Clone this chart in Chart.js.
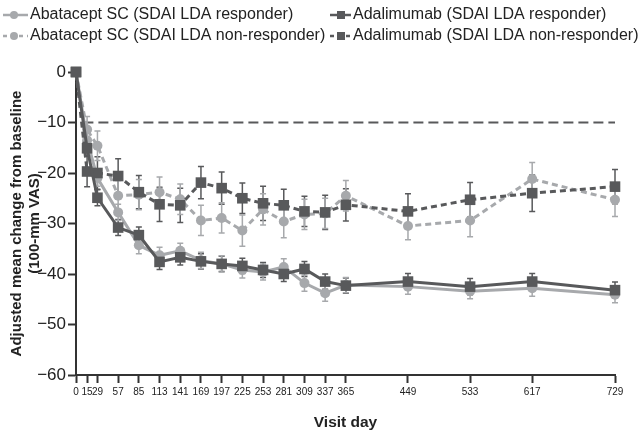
<!DOCTYPE html>
<html><head><meta charset="utf-8">
<script src="https://cdn.jsdelivr.net/npm/chart.js@4/dist/chart.umd.min.js"></script>
<style>html,body{margin:0;padding:0;background:#fff}#wrap{width:642px;height:432px;position:relative}</style>
</head><body><div id="wrap"><canvas id="c" width="642" height="432"></canvas></div>
<script>
const visitDays = [0,15,29,57,85,113,141,169,197,225,253,281,309,337,365,449,533,617,729];
const tickDays = [0,15,29,57,85,113,141,169,197,225,253,281,309,337,365,449,533,617,729];
const yTicks = [0,-10,-20,-30,-40,-50,-60];
const seriesLabels = [
  'Abatacept SC (SDAI LDA responder)',
  'Abatacept SC (SDAI LDA non-responder)',
  'Adalimumab (SDAI LDA responder)',
  'Adalimumab (SDAI LDA non-responder)'
];
const abaResp    = [0,-13.5,-21.0,-27.8,-34.3,-36.3,-35.4,-37.3,-38.0,-39.2,-39.6,-38.6,-41.8,-43.8,-42.2,-42.5,-43.4,-42.8,-44.1];
const abaNonResp = [0,-11.4,-14.6,-24.5,-24.3,-23.8,-25.2,-29.4,-28.9,-31.4,-27.2,-29.6,-28.2,-28.0,-24.5,-30.5,-29.4,-21.2,-25.3];
const adaResp    = [0,-15.1,-24.9,-30.8,-32.3,-37.6,-36.7,-37.5,-38.0,-38.4,-39.2,-40.0,-39.0,-41.5,-42.3,-41.5,-42.5,-41.5,-43.2];
const adaNonResp = [0,-19.7,-20.0,-20.6,-23.8,-26.2,-26.4,-21.9,-23.0,-25.0,-26.0,-26.4,-27.6,-27.8,-26.3,-27.6,-25.3,-24.0,-22.7];
const abaRespErr    = [0,1.5,1.6,1.6,1.7,1.6,1.5,1.6,1.6,1.6,1.6,1.6,1.6,1.6,1.5,1.5,1.5,1.6,1.6];
const abaNonRespErr = [0,2.6,2.9,3.0,3.0,3.0,3.0,3.0,3.0,3.1,3.1,3.2,3.0,3.0,3.0,2.7,3.2,3.3,3.3];
const adaRespErr    = [0,1.5,1.6,1.6,1.6,1.5,1.5,1.5,1.5,1.5,1.5,1.5,1.5,1.5,1.5,1.6,1.6,1.6,1.6];
const adaNonRespErr = [0,3.0,3.2,3.4,3.3,3.4,3.4,3.2,3.2,3.0,3.4,3.2,3.0,3.4,3.2,3.5,3.4,3.6,3.4];
const refLineValue = -10;
const xTitle = 'Visit day';
const yTitle = ['Adjusted mean change from baseline', '(100-mm VAS)'];

const DARK = '#58595b', LIGHT = '#a7a9ac', TXT = '#222', AX = '#333';
const FONT = '"Liberation Sans", Arial, Helvetica, sans-serif';

function pts(vals){ return visitDays.map((d,i)=>({x:d,y:vals[i]})); }

const specs = [
  {vals:abaResp, err:abaRespErr, color:LIGHT, dash:[], shape:'circle', r:5, order:2},
  {vals:abaNonResp, err:abaNonRespErr, color:LIGHT, dash:[6,4], shape:'circle', r:5, order:3},
  {vals:adaResp, err:adaRespErr, color:DARK, dash:[], shape:'rect', r:7.5, order:0},
  {vals:adaNonResp, err:adaNonRespErr, color:DARK, dash:[6,4], shape:'rect', r:7.5, order:1}
];

const datasets = specs.map((s,i)=>({
  label: seriesLabels[i],
  data: pts(s.vals),
  errors: s.err,
  borderColor: s.color,
  backgroundColor: s.color,
  borderWidth: 3,
  borderDash: s.dash,
  pointStyle: s.shape,
  pointRadius: s.r,
  pointBorderWidth: 0,
  pointBackgroundColor: s.color,
  pointHoverRadius: s.r,
  tension: 0,
  clip: false,
  order: s.order
}));

const refLinePlugin = {
  id:'refLine',
  beforeDatasetsDraw(chart){
    const {ctx, scales:{x,y}} = chart;
    const py = y.getPixelForValue(refLineValue);
    ctx.save();
    ctx.strokeStyle = DARK; ctx.lineWidth = 2; ctx.setLineDash([10,5]);
    ctx.beginPath(); ctx.moveTo(x.getPixelForValue(10), py); ctx.lineTo(x.getPixelForValue(729), py); ctx.stroke();
    ctx.restore();
  }
};

const errorBarPlugin = {
  id:'errBars',
  beforeDatasetsDraw(chart){
    const {ctx, scales:{x,y}} = chart;
    ctx.save();
    ctx.setLineDash([]);
    [3,2,1,0].forEach(di=>{
      const ds = chart.data.datasets[di];
      ctx.strokeStyle = ds.borderColor; ctx.lineWidth = 1.5;
      ds.data.forEach((p,i)=>{
        const e = ds.errors[i]; if(!e) return;
        const px = x.getPixelForValue(p.x);
        const y1 = y.getPixelForValue(p.y+e), y2 = y.getPixelForValue(p.y-e);
        ctx.beginPath();
        ctx.moveTo(px,y1); ctx.lineTo(px,y2);
        ctx.moveTo(px-3,y1); ctx.lineTo(px+3,y1);
        ctx.moveTo(px-3,y2); ctx.lineTo(px+3,y2);
        ctx.stroke();
      });
    });
    ctx.restore();
  }
};

const legendPlugin = {
  id:'customLegend',
  afterDraw(chart){
    const ctx = chart.ctx;
    const pos = [
      {x0:3, x1:28, mx:14, tx:30, y:15},
      {x0:3, x1:28, mx:14, tx:30, y:36},
      {x0:330, x1:351, mx:341, tx:353, y:15},
      {x0:330, x1:351, mx:341, tx:353, y:36}
    ];
    chart.data.datasets.forEach((ds,i)=>{
      const p = pos[i];
      ctx.save();
      ctx.strokeStyle = ds.borderColor; ctx.lineWidth = 2.5;
      ctx.setLineDash(ds.borderDash.length ? [4,4] : []);
      ctx.beginPath(); ctx.moveTo(p.x0,p.y); ctx.lineTo(p.x1,p.y); ctx.stroke();
      ctx.setLineDash([]);
      ctx.fillStyle = ds.borderColor;
      if (ds.pointStyle === 'rect') { ctx.fillRect(p.mx-4,p.y-4,8,8); }
      else { ctx.beginPath(); ctx.arc(p.mx,p.y,4,0,Math.PI*2); ctx.fill(); }
      ctx.fillStyle = TXT; ctx.font = '16px ' + FONT; ctx.textBaseline = 'middle'; ctx.textAlign = 'left';
      ctx.fillText(ds.label, p.tx, p.y);
      ctx.restore();
    });
  }
};

new Chart(document.getElementById('c'), {
  type:'line',
  data:{datasets},
  plugins:[refLinePlugin, errorBarPlugin, legendPlugin],
  options:{
    responsive:false, animation:false, devicePixelRatio:1,
    layout:{padding:{top:72,right:27,left:0,bottom:0}},
    plugins:{legend:{display:false}, tooltip:{enabled:false}},
    scales:{
      x:{
        type:'linear', min:0, max:729,
        afterBuildTicks:s=>{ s.ticks = tickDays.map(v=>({value:v})); },
        ticks:{autoSkip:false, maxRotation:0, minRotation:0, color:TXT, padding:3, font:{size:10, family:FONT}, callback:v=>String(v)},
        grid:{display:true, drawOnChartArea:false, drawTicks:true, tickLength:8, tickColor:AX, tickWidth:2},
        border:{display:true, color:AX, width:2},
        title:{display:true, text:xTitle, color:TXT, font:{size:15.5, weight:'bold', family:FONT, lineHeight:1.2}, padding:{top:0,bottom:0}},
        afterFit:s=>{ s.height = 57; }
      },
      y:{
        min:-60, max:0,
        afterBuildTicks:s=>{ s.ticks = yTicks.map(v=>({value:v})); },
        ticks:{color:TXT, padding:2, font:{size:17, family:FONT}, callback:v=> v<0 ? '\u2212'+Math.abs(v) : String(v)},
        grid:{display:true, drawOnChartArea:false, drawTicks:true, tickLength:8, tickColor:AX, tickWidth:2},
        border:{display:true, color:AX, width:2},
        title:{display:true, text:yTitle, color:TXT, font:{size:15, weight:'bold', family:FONT, lineHeight:1.2}, padding:{top:8,bottom:0}},
        afterFit:s=>{ s.width = 76; }
      }
    }
  }
});
</script></body></html>
